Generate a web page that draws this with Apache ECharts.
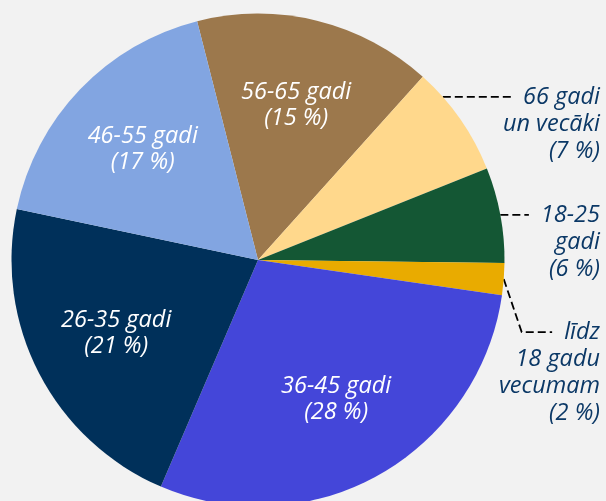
<!DOCTYPE html>
<html>
<head>
<meta charset="utf-8">
<script src="https://cdn.jsdelivr.net/npm/echarts@6/dist/echarts.min.js"></script>
<style>
  html, body { margin: 0; padding: 0; background: #f2f2f2; }
  #chart { width: 606px; height: 501px; }
</style>
</head>
<body>
<div id="chart"></div>
<script>
// clockwise from the top-left
var groups = ['56-65 gadi', '66 gadi\nun vecāki', '18-25\ngadi', 'līdz\n18 gadu\nvecumam',
              '36-45 gadi', '26-35 gadi', '46-55 gadi'];
var shares = [15, 7, 6, 2, 28, 21, 17];
var colors = ['#9c784c', '#ffd88c', '#145734', '#e9ab00', '#4446d9', '#00305a', '#82a5e1'];

var CX = 258, CY = 260, R = 246.5, LINE_H = 27;
var FONT_FAMILY = '"Open Sans", sans-serif';
var FONT_SIZE = 23.5;
var TEXT_DARK = '#0b3866';

// leader lines of the small slices: first segment length, vertical move
var outer = {
    '66 gadi\nun vecāki': { len: 0, shift: -22 },
    '18-25\ngadi': { len: 0, shift: 0 },
    'līdz\n18 gadu\nvecumam': { len: 18, shift: 53 }
};

var ctx = document.createElement('canvas').getContext('2d');
function textWidth(s) {
    ctx.font = 'italic ' + FONT_SIZE + 'px ' + FONT_FAMILY;
    return ctx.measureText(s).width;
}

function isSmall(v) { return v < 10; }

function fmt(p) { return p.name + '\n(' + p.value + ' %)'; }

function placeOuter(p) {
    var name = groups[p.dataIndex];
    var cfg = outer[name];
    var pts = p.labelLinePoints;
    if (!cfg || !pts) return {};
    var rim = pts[0];
    var ux = (rim[0] - CX) / R;
    var y = rim[1] + cfg.shift;
    var a, b;
    if (cfg.len === 0) {
        a = [CX + Math.sqrt(R * R - (y - CY) * (y - CY)), y];
        b = a.slice();
    } else {
        a = rim.slice();
        b = [rim[0] + ux * cfg.len, y];
    }
    var right = p.labelRect.x + p.labelRect.width;
    var c = [right - textWidth(name.split('\n')[0]) - 12, y];
    return { y: y - LINE_H / 2, verticalAlign: 'top', labelLinePoints: [a, b, c] };
}

var mainData = groups.map(function (g, i) {
    var small = isSmall(shares[i]);
    return {
        name: g,
        value: shares[i],
        itemStyle: { color: colors[i] },
        label: { show: small },
        labelLine: { show: small, length: small ? outer[g].len : 0 }
    };
});

var innerData = groups.map(function (g, i) {
    return { name: g, value: shares[i], label: { show: !isSmall(shares[i]) } };
});

var chart = echarts.init(document.getElementById('chart'));
chart.setOption({
    backgroundColor: '#f2f2f2',
    animation: false,
    series: [
        {
            type: 'pie',
            center: [CX, CY],
            radius: R,
            startAngle: 104.3,
            clockwise: true,
            avoidLabelOverlap: true,
            silent: true,
            itemStyle: { borderWidth: 0 },
            label: {
                position: 'outside',
                alignTo: 'edge',
                edgeDistance: 6,
                overflow: 'none',
                formatter: fmt,
                color: TEXT_DARK,
                fontFamily: FONT_FAMILY,
                fontStyle: 'italic',
                fontSize: FONT_SIZE,
                lineHeight: LINE_H,
                align: 'right'
            },
            labelLine: {
                length2: 0,
                lineStyle: { color: '#000', width: 1.8, type: [8, 4] }
            },
            labelLayout: placeOuter,
            data: mainData
        },
        {
            type: 'pie',
            center: [CX, CY],
            radius: [67, R],
            startAngle: 104.3,
            clockwise: true,
            avoidLabelOverlap: false,
            silent: true,
            itemStyle: { color: 'rgba(0,0,0,0)', borderWidth: 0 },
            label: {
                position: 'inside',
                formatter: fmt,
                color: '#ffffff',
                fontFamily: FONT_FAMILY,
                fontStyle: 'italic',
                fontSize: FONT_SIZE,
                lineHeight: 26
            },
            labelLine: { show: false },
            data: innerData
        }
    ]
});
</script>
</body>
</html>
